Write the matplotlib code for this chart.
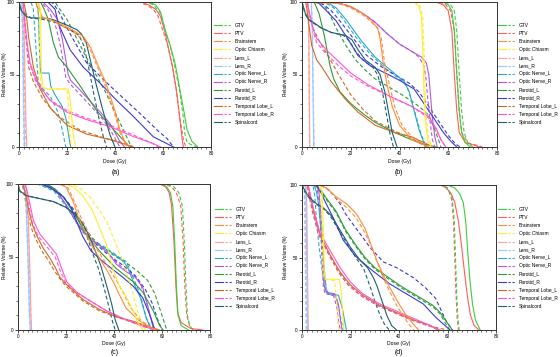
import matplotlib
matplotlib.use("Agg")
import matplotlib.pyplot as plt
from matplotlib.legend_handler import HandlerTuple
from matplotlib.lines import Line2D
from matplotlib.ticker import MultipleLocator

plt.rcParams['font.family'] = ['Liberation Sans', 'DejaVu Sans']

STRUCTURES = ["GTV", "PTV", "Brainstem", "Optic Chiasm", "Lens_L", "Lens_R",
              "Optic Nerve_L", "Optic Nerve_R", "Parotid_L", "Parotid_R",
              "Temporal Lobe_L", "Temporal Lobe_R", "Spinalcord"]
COLORS = ["#3fcc3f", "#ff5c5c", "#ff8c3a", "#ffec30", "#ff9e9e", "#9cc6ff",
          "#2aa8c8", "#b45ad8", "#2e9a3a", "#3a3ad0", "#cc6a22", "#ff55d4", "#1f5f72"]
ZORD = [2.2, 2.1, 2.3, 2.4, 2.0, 2.0, 2.0, 2.0, 2.0, 2.0, 2.0, 2.0, 2.0]

# ---------------- panel (a): [solid points, dashed points] (dose Gy, volume %)
A_GTV = [[(0,100),(54,100),(57,98),(59,93),(61,80),(63,70),(65,58),(67,40),(69,22),(70,12),(72,4),(74.5,0)],
         [(0,100),(53,100),(56,98),(59,92),(61,80),(63,70),(65,55),(67,38),(68.5,20),(69,10),(70,3),(74,0)]]
A_PTV = [[(0,100),(51,100),(54,98),(57,95),(59,90),(61,78),(62,70),(64,55),(65.5,40),(67,20),(68,5),(68.5,0)],
         [(0,100),(50,100),(53,98),(56,95),(58,90),(60,80),(62,70),(64,55),(65.5,40),(67,20),(68.5,5),(69.5,0)]]
A_BRAINSTEM = [[(0,100),(8,100),(9,92),(10,89),(13,88),(17,85),(22,81),(27,76),(30,68),(33,56),(36,45),(38,35),(40,25),(42,12),(44,4),(46,0)],
               [(0,100),(7,100),(8,93),(9,90),(13,88),(17,84),(22,80),(27,74),(30,66),(33,54),(36,42),(38,32),(40,22),(42,10),(44,3),(45,0)]]
A_CHIASM = [[(0,100),(8,100),(9,95),(9.3,50),(10,41),(12,40),(20.5,40),(21.5,30),(22.5,10),(23.5,0)],
            [(0,100),(7.5,100),(8.3,95),(8.7,50),(9.5,41),(12,40),(20,40),(20.5,30),(21.2,10),(21.8,0)]]
A_LENS_L = [[(0,100),(1.5,100),(2,90),(2.5,50),(3,10),(3.3,0)],
            [(0,100),(1.2,100),(1.8,90),(2.2,50),(2.7,10),(3,0)]]
A_LENS_R = [[(0,100),(1.2,100),(1.6,80),(2,30),(2.3,0)],
            [(0,100),(1.0,100),(1.4,80),(1.8,30),(2.1,0)]]
A_ON_L = [[(0,100),(7,100),(8,95),(8.7,60),(9,51),(12.5,51),(13.2,42),(15,36),(18,28),(19.5,20),(20.5,10),(21.5,0)],
          [(0,100),(5,100),(6,95),(7,70),(8,45),(10,40),(13,35),(16,25),(18,12),(19.5,0)]]
A_ON_R = [[(0,100),(10,100),(13,95),(16,88),(18,75),(19.5,60),(20.5,50),(21.5,46),(25,40),(30,31),(35,22),(38,16),(40,10),(42,4),(44,0)],
          [(0,100),(9,100),(12,95),(15,85),(17,72),(18.5,58),(19.5,48),(21,44),(25,37),(30,28),(35,19),(38,12),(40,6),(42,0)]]
A_PAROTID_L = [[(0,100),(9,100),(10.5,95),(12.2,88),(14.3,72),(16.4,62),(20,55),(25.5,42),(32.4,25),(39.4,12),(45,2),(46.3,0)],
               [(0,100),(15,100),(17,95),(20,88),(24,75),(28,62),(32,50),(36,38),(40,24),(44,10),(46,3),(47,0)]]
A_PAROTID_R = [[(0,100),(12,100),(15,95),(16.4,85),(21.3,67),(26.8,55),(33.8,44),(40.8,32),(47.7,21),(56,7),(62,2),(64.4,0)],
               [(0,100),(13,100),(14.3,99),(17,92),(21.3,78),(28.2,58),(38,42),(50.5,23),(58,11),(61.6,6),(64.4,0)]]
A_TLOBE_L = [[(0,100),(2,100),(3,92),(4,76),(6,55),(8.8,40),(13,27),(20,15),(28,9),(38,5),(44,2),(47,0)],
             [(0,100),(1.5,100),(2.3,90),(3,75),(4,55),(6,45),(10,33),(15.7,22),(25,12),(34,7),(45,2),(48,0)]]
A_TLOBE_R = [[(0,100),(1.8,100),(2.5,85),(3.5,70),(4.6,58),(7.4,45),(13,32),(20,24),(28,19),(38,14),(48,7),(55,3),(59,0)],
             [(0,100),(1.5,100),(2.2,85),(3.2,70),(4.3,58),(7,45),(12.5,33),(20,25),(28,20),(38,15),(48,8),(55,3),(58,0)]]
A_SPINAL = [[(0,100),(1,94),(3,90),(5,89),(10,89),(14,88),(20,84),(24,81),(26,78),(28,72),(30,58),(32,44),(35,25),(38,8),(40,0)],
            [(0,100),(1,94),(5,89),(10,88),(15,86),(20,82),(25,77),(27,70),(29,55),(31,38),(33,22),(35,8),(36.5,0)]]

# ---------------- panel (b)
B_GTV = [[(0,100),(58,100),(60,98),(61.5,94),(62.5,80),(63.5,50),(64.5,25),(65.5,10),(67,3),(69,0)],
         [(0,100),(59,100),(61,98),(62.5,94),(63.5,80),(64.5,50),(65.5,25),(66.5,10),(68,3),(70,0)]]
B_PTV = [[(0,100),(55,100),(58,98),(60,94),(61.5,80),(62.5,50),(63.5,25),(64.5,10),(67,3),(73,0)],
         [(0,100),(56,100),(59,98),(61,94),(62.5,80),(63.5,50),(64.5,25),(65.5,10),(68,3),(74,0)]]
B_BRAINSTEM = [[(0,100),(15,99),(20,97),(25,92),(28,88),(31,82),(32,75),(33.4,57),(35,42),(37,28),(40,15),(45,5),(52,0)],
               [(0,100),(15,99),(20,96),(25,91),(28,87),(31,82),(32.5,75),(34,57),(36,42),(38,28),(41,15),(46,5),(54,0)]]
B_CHIASM = [[(0,100),(46,100),(48,97),(49,90),(49.5,70),(50,40),(50.5,20),(51.5,5),(53,0)],
            [(0,100),(46.5,100),(48.5,97),(49.5,90),(50,70),(50.5,40),(51,20),(52,5),(53.5,0)]]
B_LENS_L = [[(0,100),(2.5,100),(2.8,80),(3,40),(3.2,0)],
            [(0,100),(2.4,100),(2.7,80),(2.9,40),(3.1,0)]]
B_LENS_R = [[(0,100),(3.8,100),(4.2,80),(4.5,40),(4.8,0)],
            [(0,100),(3.9,100),(4.3,80),(4.6,40),(5,0)]]
B_ON_L = [[(0,100),(10,100),(14,96),(18,88),(24,74),(30,62),(37,52),(42,45),(44,38),(46,25),(48,12),(50,3),(51.5,0)],
          [(0,100),(9,100),(13,96),(17,88),(22,76),(28,64),(35,53),(40,47),(43,42),(45,32),(47,20),(49,8),(51,0)]]
B_ON_R = [[(0,100),(12,100),(18,98),(22,95),(26,91),(30,86),(35,78),(40,71),(45,66),(49,62),(51,58),(52,50),(52.6,38),(53.5,20),(54.5,7),(55.5,0)],
          [(0,100),(12,100),(18,98),(22,95),(26,91),(30,86),(35,78),(40,71),(45,66),(48,62),(50,56),(50.8,48),(51.5,35),(52.5,18),(53.5,5),(54.5,0)]]
B_PAROTID_L = [[(0,100),(5,100),(7,92),(9,78),(11.5,56),(13,47),(15.6,38),(20,30),(25,23),(30,17),(38,10),(45,5),(50,2),(55,0)],
               [(0,100),(8,100),(11,93),(14,82),(18,70),(22,60),(26,53),(30,47),(36,41),(42,35),(48,28),(52,22),(54,14),(56,5),(57,0)]]
B_PAROTID_R = [[(0,100),(5,100),(7,99),(10,94),(14,87),(19,74),(23,63),(28,56),(33,52),(40,46),(46,40),(50,30),(54,20),(58,10),(61,4),(63.5,0)],
               [(0,100),(6,100),(9,98),(12,94),(16,86),(21,75),(26,64),(32,56),(38,50),(44,44),(48,38),(52,28),(56,18),(60,8),(63,2),(65,0)]]
B_TLOBE_L = [[(0,100),(1.5,100),(2,95),(3,82),(4,70),(6,60),(8.2,55),(12,45),(17.8,33),(23,24),(30,15),(38,10),(45,7),(50,3),(54,0)],
             [(0,100),(2,100),(3,92),(4.5,82),(7.4,72),(11,62),(15,50),(20,36),(25,26),(30,18),(38,11),(45,6),(51,0)]]
B_TLOBE_R = [[(0,100),(2,100),(3,93),(4.5,82),(6,75),(10,67),(15,59),(20,51),(27,43),(36,35),(45,28),(52,21),(55,13),(57,5),(59,0)],
             [(0,100),(2,100),(3,92),(4.5,80),(6,72),(10,64),(15,56),(20,49),(27,42),(36,35),(45,28),(52,20),(55,12),(57,5),(59,0)]]
B_SPINAL = [[(0,100),(1.4,92),(2.7,88),(5.5,85),(8,82),(12,79),(17.8,77),(20.5,74),(23,67),(26,60),(30,55),(32,50),(34,38),(35.5,24),(37,10),(39,0)],
            [(0,100),(1.2,92),(2.5,88),(5,85),(8,82),(12,79),(17,77),(19.5,73),(22,66),(25,60),(29,55),(31,50),(33,38),(34.5,24),(36,10),(37.5,0)]]

# ---------------- panel (c)
C_GTV = [[(0,100),(60,100),(62,98),(63.5,94),(64.5,85),(65.3,60),(66,30),(66.7,10),(68,3),(71,0)],
         [(0,100),(62,100),(65,98),(67,94),(68.5,85),(69.3,60),(70,30),(70.6,10),(71.5,3),(73,0)]]
C_PTV = [[(0,100),(59,100),(61.5,98),(63,94),(64,85),(65,60),(65.8,30),(66.5,12),(68,5),(72,1),(77,0)],
         [(0,100),(61,100),(64,98),(66,94),(67.8,85),(68.8,60),(69.5,30),(70.3,10),(71.5,3),(73,0)]]
C_BRAINSTEM = [[(0,100),(17,100),(20,98),(23,88),(25,78),(28,67),(31,57),(34,49),(37,41),(40,32),(42,25),(45,15),(50,7),(55,2),(57,0)],
               [(0,100),(18,100),(21,97),(24,86),(26,78),(29,68),(32,58),(35,50),(38,42),(41,34),(44,25),(47,15),(51,7),(55,2),(58,0)]]
C_CHIASM = [[(0,100),(20,100),(23,98),(27,92),(31,82),(34,70),(37,58),(39.5,42),(42,31),(45,23),(48,13),(50,5),(52,0)],
            [(0,100),(22,100),(26,97),(30,91),(34,82),(37,74),(40,62),(43,50),(45,40),(47,30),(49,18),(51,7),(53,0)]]
C_LENS_L = [[(0,100),(3,100),(4,90),(4.8,50),(5.4,10),(5.7,0)],
            [(0,100),(3,100),(3.9,90),(4.7,50),(5.3,10),(5.6,0)]]
C_LENS_R = [[(0,100),(2.5,100),(3.3,90),(4.2,50),(4.8,10),(5.2,0)],
            [(0,100),(2.4,100),(3.2,90),(4.1,50),(4.7,10),(5.1,0)]]
C_ON_L = [[(0,100),(9,100),(12,98),(16,95),(20,86),(24,75),(28,66),(32,60),(36,56),(40,52),(44,47),(46,42),(48,33),(51,22),(53.5,8),(55.5,0)],
          [(0,100),(8,100),(11,98),(15,95),(19.5,86),(23.5,76),(27,67),(31,61),(36,57),(42,50),(45,47),(47,40),(49,32),(51,24),(53.5,8),(56,0)]]
C_ON_R = [[(0,100),(10,100),(14,98),(17.5,92),(21.7,81),(25.8,70),(30,63),(34,58),(38,52),(41,45),(45,40),(49,36),(52,29),(54,17),(55.5,7),(56.5,0)],
          [(0,100),(9,100),(13,98),(17,93),(21,83),(25,72),(29,64),(33,59),(37,54),(40,48),(44,42),(48,38),(51,32),(53,22),(55,10),(57,0)]]
C_PAROTID_L = [[(0,100),(12,100),(15,97),(19,91),(24.4,77),(28.6,65),(34,54),(41,42),(48,33),(52,26),(56.4,13),(59,3),(60.5,0)],
               [(0,100),(11,100),(15,97),(19,91),(23,82),(27,72),(31,63),(35,57),(40,51),(46,45),(50,40),(54,34),(57,25),(59,15),(61,5),(62,0)]]
C_PAROTID_R = [[(0,100),(10,100),(14,97),(19,91),(22,84),(24.5,74),(27,64),(30.5,54),(36,46),(43,37),(48,30),(52,22),(55,10),(57,0)],
               [(0,100),(11,100),(15,97),(19,91),(23,83),(26,75),(29,66),(33,58),(38,51),(44,44),(49,37),(53,28),(56,18),(58,8),(60,0)]]
C_TLOBE_L = [[(0,100),(2,100),(3,94),(4.5,82),(6,72),(8,64),(10.5,56),(13,50),(15.5,43),(17.5,36),(20.3,31),(27,21),(34,14),(41,9),(48,6),(55,2),(59,0)],
             [(0,100),(1.8,100),(2.7,92),(4,80),(5.5,70),(7.5,62),(10,54),(12.5,48),(15,41),(17.5,35),(20,30),(27,20),(34,13),(41,9),(48,5),(55,2),(58,0)]]
C_TLOBE_R = [[(0,100),(3,100),(4,94),(5,86),(6.4,75),(9,66),(13,58),(16,52),(18,43),(20.3,33),(24.4,26),(30,20),(37,13),(45,7),(53,2),(58,0)],
             [(0,100),(2.7,100),(3.7,93),(4.7,84),(6,73),(8.5,64),(12.5,56),(15.5,50),(17.5,41),(20,32),(24,26),(30,20),(37,13),(45,7),(53,2),(58,0)]]
C_SPINAL = [[(0,100),(0.8,95),(3.6,92),(9,90),(14.7,88),(20,84),(24,79),(27,73),(29.5,65),(32,55),(34.5,44),(37,30),(39,18),(40.5,7),(42,0)],
            [(0,100),(0.8,95),(3.6,92),(9,90),(14.7,88),(20,84),(23.5,79),(26.5,72),(29,63),(31,53),(33.5,42),(36,28),(38,15),(39.5,5),(40.5,0)]]

# ---------------- panel (d)
D_GTV = [[(0,100),(60,100),(63,98),(65,94),(66.5,88),(67.5,75),(68.3,55),(69.2,35),(70.3,18),(71.5,7),(73.5,0)],
         [(0,100),(58,100),(60,98),(61,95),(62,90),(62.8,75),(63.3,50),(63.8,25),(64.3,8),(64.8,0)]]
D_PTV = [[(0,100),(57,100),(59.5,98),(61.5,94),(63,88),(64.5,75),(65.8,58),(67,40),(68.3,22),(69.5,10),(71,3),(73,0)],
         [(0,100),(57.5,100),(59.5,98),(60.7,95),(61.7,90),(62.5,75),(63,50),(63.5,25),(64,8),(64.5,0)]]
D_BRAINSTEM = [[(0,100),(7,100),(10,98),(14,92),(18.4,87),(22.5,80),(26,70),(28,61),(30.8,48),(33.5,38),(36.3,29),(40,18),(43,10),(46,4),(48,0)],
               [(0,100),(8,100),(11,97),(14,91),(18,85),(22,78),(25,70),(28,60),(30.5,49),(33,38),(36,27),(39,17),(42,9),(44.5,3),(46,0)]]
D_CHIASM = [[(0,100),(7.5,100),(8.3,95),(8.8,70),(9.2,40),(9.8,35),(15.5,35),(16.2,25),(16.8,10),(17.3,0)],
            [(0,100),(7,100),(7.8,95),(8.3,70),(8.7,40),(9.3,35),(13.5,34),(14,25),(14.6,10),(15.2,0)]]
D_LENS_L = [[(0,100),(1.6,100),(2,85),(2.3,40),(2.6,0)],
            [(0,100),(1.0,100),(1.3,85),(1.6,40),(1.9,0)]]
D_LENS_R = [[(0,100),(1.4,100),(1.7,85),(2,40),(2.3,0)],
            [(0,100),(0.8,100),(1.1,85),(1.4,40),(1.7,0)]]
D_ON_L = [[(0,100),(5,100),(6,95),(7,85),(8,65),(9,45),(10,28),(11,25),(15,24),(16.5,16),(17.5,7),(18.3,0)],
          [(0,100),(4.5,100),(5.3,92),(6,75),(7,58),(8,45),(9.3,30),(10.5,25),(14,23),(15.2,15),(16.2,6),(17,0)]]
D_ON_R = [[(0,100),(6,100),(7,95),(8,75),(8.7,50),(9.2,30),(10,26),(13.5,25),(15,18),(15.8,8),(16.5,0)],
          [(0,100),(5.5,100),(6.5,95),(7.5,75),(8.2,50),(8.8,30),(9.5,25),(13,24),(14.3,16),(15,7),(15.8,0)]]
D_PAROTID_L = [[(0,100),(6,100),(8,96),(10,91),(14,82),(18,69),(22,59),(26,50),(30,43),(35,37),(41,30),(48,23),(54,17),(57,12),(59.5,6),(62,0)],
               [(0,100),(5.5,100),(7.5,96),(10,90),(14,81),(18,68),(22,58),(26,49),(30,42),(35,36),(41,29),(48,22),(54,16),(57,11),(59,5),(61,0)]]
D_PAROTID_R = [[(0,100),(6,100),(8,94),(10,87),(13,77),(17,62),(22,51),(29,41),(36,32),(43,25),(50,18),(55,9),(59,3),(61,0)],
               [(0,100),(7,100),(10,98),(13,93),(15.7,87),(18,80),(21,73),(25,64),(28,57),(33.5,47),(39,43),(46,36),(51,29),(55,22),(57,15),(59.5,6),(62,0)]]
D_TLOBE_L = [[(0,100),(2.5,100),(3.5,92),(4.7,82),(7.4,66),(11.5,52),(15.7,40),(20,31),(25,24),(32,17),(39,12),(46,7),(53,3),(56,0)],
             [(0,100),(2,100),(3,92),(4.2,82),(6.8,66),(11,52),(15,40),(19,31),(24,24),(31,17),(38,12),(45,7),(52,3),(60,0)]]
D_TLOBE_R = [[(0,100),(2.5,100),(3.5,93),(5,82),(7.4,67),(11.5,55),(15.7,43),(20,33),(25,25),(32,18),(39,13),(46,8),(53,3),(57,0)],
             [(0,100),(2.2,100),(3.2,92),(4.6,81),(7,66),(11,53),(15,41),(19,32),(24,24),(31,17),(38,12),(45,7),(52,3),(57,0)]]
D_SPINAL = [[(0,100),(1.9,94),(4,90),(6,87),(9,84),(12,79),(16,68),(20,57),(24,48),(27,43),(29.5,36),(31,30),(33,20),(35,10),(37,3),(39,0)],
            [(0,100),(1.5,94),(3.5,90),(5.5,87),(8.5,84),(11.5,79),(15.5,68),(19.5,57),(23,48),(25.5,42),(27,35),(28.5,28),(30,20),(32,11),(34,4),(36,0)]]

PANELS = [
    ("(a)", [A_GTV, A_PTV, A_BRAINSTEM, A_CHIASM, A_LENS_L, A_LENS_R, A_ON_L, A_ON_R,
             A_PAROTID_L, A_PAROTID_R, A_TLOBE_L, A_TLOBE_R, A_SPINAL]),
    ("(b)", [B_GTV, B_PTV, B_BRAINSTEM, B_CHIASM, B_LENS_L, B_LENS_R, B_ON_L, B_ON_R,
             B_PAROTID_L, B_PAROTID_R, B_TLOBE_L, B_TLOBE_R, B_SPINAL]),
    ("(c)", [C_GTV, C_PTV, C_BRAINSTEM, C_CHIASM, C_LENS_L, C_LENS_R, C_ON_L, C_ON_R,
             C_PAROTID_L, C_PAROTID_R, C_TLOBE_L, C_TLOBE_R, C_SPINAL]),
    ("(d)", [D_GTV, D_PTV, D_BRAINSTEM, D_CHIASM, D_LENS_L, D_LENS_R, D_ON_L, D_ON_R,
             D_PAROTID_L, D_PAROTID_R, D_TLOBE_L, D_TLOBE_R, D_SPINAL]),
]

W, H = 560, 357
# layout in pixels: axes box (left, top, right, bottom), ylabel x, xlabel y,
# panel label (x, y), legend left x, legend first row centre y
LAYOUT = [
    dict(box=(19, 2, 211, 147), ylab_x=5, xlab_y=162, tag=(116, 172), leg_x=214, leg_y=26),
    dict(box=(302, 2, 497, 147), ylab_x=286, xlab_y=162, tag=(399, 172), leg_x=498, leg_y=26),
    dict(box=(18, 184, 210, 330), ylab_x=5, xlab_y=344, tag=(115, 353), leg_x=215, leg_y=210),
    dict(box=(302, 185, 496, 330), ylab_x=286, xlab_y=344, tag=(399, 353), leg_x=498, leg_y=210),
]

fig = plt.figure(figsize=(W / 100, H / 100), dpi=100)
LW = 0.8
DASH = (0, (3.4, 2.2))

for (label, curves), lay in zip(PANELS, LAYOUT):
    l, t, r, b = lay["box"]
    aw, ah = r - l, b - t
    ax = fig.add_axes([l / W, 1 - b / H, aw / W, ah / H])
    handles = []
    for i, (solid, dashed) in enumerate(curves):
        c = COLORS[i]
        xs, ys = zip(*solid)
        xd, yd = zip(*dashed)
        ax.plot(xd, yd, color=c, lw=LW, linestyle=DASH, zorder=ZORD[i])
        ax.plot(xs, ys, color=c, lw=LW, zorder=ZORD[i] + 0.01)
        hs = Line2D([], [], color=c, lw=LW)
        hd = Line2D([], [], color=c, lw=LW, linestyle=(0, (2.0, 1.6)))
        handles.append((hs, hd))
    ax.set_xlim(0, 80)
    ax.set_ylim(0, 100)
    ax.set_xticks([0, 20, 40, 60, 80])
    ax.set_yticks([0, 50, 100])
    ax.xaxis.set_minor_locator(MultipleLocator(2))
    ax.yaxis.set_minor_locator(MultipleLocator(10))
    ax.tick_params(axis='both', which='major', labelsize=3.4, length=2, width=0.5, pad=1.2)
    ax.tick_params(axis='both', which='minor', length=1.1, width=0.4)
    for s in ax.spines.values():
        s.set_linewidth(0.7)
        s.set_color('#333333')
    ax.set_xlabel("Dose (Gy)", fontsize=3.7)
    ax.set_ylabel("Relative Volume (%)", fontsize=3.4)
    ax.xaxis.set_label_coords(0.5, (b - lay["xlab_y"]) / ah)
    ax.yaxis.set_label_coords((lay["ylab_x"] - l) / aw, 0.5)
    ax.xaxis.label.set_va('center')
    ax.yaxis.label.set_va('center')
    tx, ty = lay["tag"]
    fig.text(tx / W, 1 - ty / H, label, ha='center', va='center', fontsize=5)
    top_px = lay["leg_y"] - 3.0
    ax.legend(handles, STRUCTURES, handler_map={tuple: HandlerTuple(ndivide=None, pad=0.4)},
              loc='upper left', bbox_to_anchor=((lay["leg_x"] - l) / aw, (b - top_px) / ah),
              frameon=False, fontsize=3.5, handlelength=3.7, handletextpad=0.6,
              labelspacing=0.63, borderpad=0, borderaxespad=0)

fig.savefig("out.png", dpi=100)
